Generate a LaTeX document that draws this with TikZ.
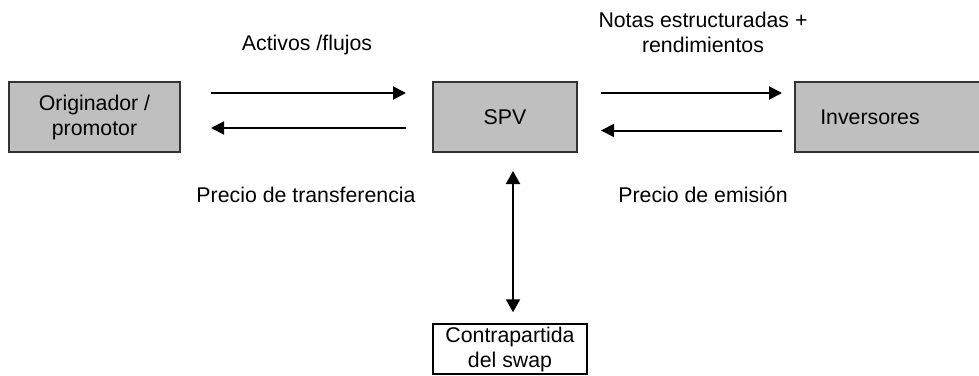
\documentclass[tikz,border=0pt]{standalone}
\usepackage{fontspec}
\setmainfont{Liberation Sans}
\usetikzlibrary{arrows.meta}
\begin{document}
\begin{tikzpicture}[x=0.5pt,y=-0.5pt,
  every node/.style={font=\fontsize{10.65pt}{12.5pt}\selectfont, align=center},
  graybox/.style={draw=black!80, line width=1pt, fill=black!25, inner sep=0pt, minimum height=35pt},
  whitebox/.style={draw=black, line width=0.75pt, fill=white, inner sep=0pt, minimum height=25pt, minimum width=77pt},
  arr/.style={line width=1pt, -{Triangle[length=6.5pt,width=6.5pt]}},
  darr/.style={line width=1pt, {Triangle[length=6.5pt,width=7pt]}-{Triangle[length=6.5pt,width=7pt]}},
  lbl/.style={inner sep=0pt}]
\clip (0,0) rectangle (979,375);
\fill[white] (0,0) rectangle (979,375);
\node[graybox, minimum width=85.5pt] (orig) at (94.5,117) {Originador /\\promotor};
\node[graybox, minimum width=72pt] (spv) at (505,117) {SPV};
\node[graybox, minimum width=100pt] (inv) at (895,117) {};
\node[lbl] (invtext) at (870,117) {Inversores};
\node[whitebox] (swap) at (510,349) {Contrapartida\\del swap};
\draw[arr, shorten <=15pt, shorten >=13pt] ([yshift=12pt]orig.east) -- ([yshift=12pt]spv.west);
\draw[arr, shorten <=13pt, shorten >=15pt] ([yshift=-5.5pt]spv.west) -- ([yshift=-5.5pt]orig.east);
\draw[arr, shorten <=11.5pt, shorten >=6pt] ([yshift=12pt]spv.east) -- ([yshift=12pt]inv.west);
\draw[arr, shorten <=6pt, shorten >=11.5pt] ([yshift=-6.75pt]inv.west) -- ([yshift=-6.75pt]spv.east);
\draw[darr, shorten <=9pt, shorten >=5.5pt] ([xshift=4pt]spv.south) -- ([xshift=4pt]spv.south |- swap.north);
\node[lbl] (l1) at (307,45) {Activos /flujos};
\node[lbl] (l2) at (703,32) {Notas estructuradas +\\rendimientos};
\node[lbl] (l3) at (306,195) {Precio de transferencia};
\node[lbl] (l4) at (703,195) {Precio de emisión};
\end{tikzpicture}
\end{document}
